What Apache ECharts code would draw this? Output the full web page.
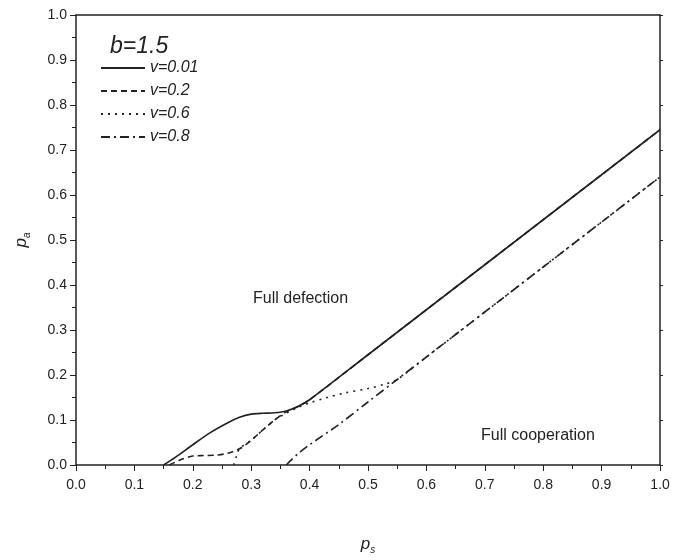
<!DOCTYPE html>
<html>
<head>
<meta charset="utf-8">
<script src="https://cdn.jsdelivr.net/npm/echarts@6/dist/echarts.min.js"></script>
<style>
  html, body { margin: 0; padding: 0; background: #fff; }
  #chart { width: 677px; height: 560px; }
</style>
</head>
<body>
<div id="chart"></div>
<script>
  // v=0.01
  const ps001 = [0.15, 0.17, 0.2, 0.23, 0.26, 0.28, 0.3, 0.32, 0.34, 0.36, 0.38, 0.4, 0.5, 0.6, 0.7, 0.8, 0.9, 0.98, 1.0];
  const pa001 = [0, 0.017, 0.045, 0.072, 0.094, 0.106, 0.113, 0.115, 0.116, 0.12, 0.13, 0.145, 0.245, 0.345, 0.445, 0.545, 0.645, 0.725, 0.745];
  // v=0.2
  const ps02 = [0.16, 0.18, 0.2, 0.22, 0.24, 0.26, 0.28, 0.3, 0.32, 0.34, 0.36, 0.38, 0.4, 0.5, 0.6, 0.7, 0.8, 0.9, 0.98, 1.0];
  const pa02 = [0, 0.012, 0.02, 0.021, 0.022, 0.026, 0.036, 0.055, 0.078, 0.1, 0.118, 0.13, 0.145, 0.245, 0.345, 0.445, 0.545, 0.645, 0.725, 0.745];
  // v=0.6
  const ps06 = [0.27, 0.275, 0.28, 0.3, 0.32, 0.34, 0.36, 0.38, 0.4, 0.43, 0.46, 0.5, 0.53, 0.55, 0.6, 0.7, 0.8, 0.9, 0.95, 1.0];
  const pa06 = [0, 0.02, 0.036, 0.055, 0.078, 0.1, 0.115, 0.128, 0.138, 0.15, 0.16, 0.17, 0.18, 0.19, 0.24, 0.34, 0.44, 0.54, 0.59, 0.64];
  // v=0.8
  const ps08 = [0.36, 0.38, 0.4, 0.45, 0.5, 0.55, 0.6, 0.7, 0.8, 0.9, 0.95, 1.0];
  const pa08 = [0, 0.025, 0.045, 0.09, 0.14, 0.19, 0.24, 0.34, 0.44, 0.54, 0.59, 0.64];

  const names = ['v=0.01', 'v=0.2', 'v=0.6', 'v=0.8'];
  const dashes = ['solid', [6, 4], [2, 5], [9, 4, 2, 4]];
  const xs = [ps001, ps02, ps06, ps08];
  const ys = [pa001, pa02, pa06, pa08];

  const ink = '#222';
  const font = 'Liberation Sans, Arial, sans-serif';

  const chart = echarts.init(document.getElementById('chart'));

  const series = names.map((n, i) => ({
    name: n,
    type: 'line',
    xAxisIndex: 0,
    yAxisIndex: 0,
    smooth: 0.3,
    symbol: 'none',
    silent: true,
    lineStyle: { color: ink, width: 1.6, type: dashes[i] },
    itemStyle: { color: ink },
    data: xs[i].map((x, k) => [x, ys[i][k]])
  }));

  const baseLabel = { color: ink, fontSize: 14, fontFamily: font, formatter: v => v.toFixed(1) };
  const subRich = {
    p: { fontSize: 17, fontStyle: 'italic', fontFamily: font, color: ink },
    s: { fontSize: 10, fontStyle: 'italic', fontFamily: font, color: ink, padding: [12, 0, 0, 0] }
  };

  const option = {
    backgroundColor: '#fff',
    animation: false,
    grid: { left: 76, right: 17, top: 15, bottom: 94 },
    legend: {
      data: names,
      orient: 'vertical',
      left: 95,
      top: 55,
      itemWidth: 44,
      itemHeight: 10,
      itemGap: 7,
      itemStyle: { color: 'rgba(0,0,0,0)', borderWidth: 0 },
      textStyle: { color: ink, fontSize: 16, fontStyle: 'italic', fontFamily: font }
    },
    xAxis: [{
      type: 'value', min: 0, max: 1, interval: 0.1,
      name: '{p|p}{s|s}',
      nameLocation: 'middle', nameGap: 68,
      nameTextStyle: { rich: subRich },
      axisLine: { onZero: false, lineStyle: { color: ink, width: 1.5 } },
      axisTick: { inside: false, length: 6, lineStyle: { color: ink } },
      minorTick: { show: true, splitNumber: 2, length: 4, lineStyle: { color: ink } },
      splitLine: { show: false },
      axisLabel: Object.assign({ margin: 13 }, baseLabel)
    }, {
      type: 'value', min: 0, max: 1, interval: 0.1, position: 'top',
      axisLine: { onZero: false, lineStyle: { color: ink, width: 1.5 } },
      axisTick: { show: false },
      axisLabel: { show: false },
      splitLine: { show: false }
    }],
    yAxis: [{
      type: 'value', min: 0, max: 1, interval: 0.1,
      name: '{p|p}{s|a}',
      nameLocation: 'middle', nameGap: 44, nameRotate: 90,
      nameTextStyle: { rich: subRich },
      axisLine: { onZero: false, lineStyle: { color: ink, width: 1.5 } },
      axisTick: { inside: false, length: 6, lineStyle: { color: ink } },
      minorTick: { show: true, splitNumber: 2, length: 4, lineStyle: { color: ink } },
      splitLine: { show: false },
      axisLabel: Object.assign({ margin: 9 }, baseLabel)
    }, {
      type: 'value', min: 0, max: 1, interval: 0.1, position: 'right',
      axisLine: { onZero: false, lineStyle: { color: ink, width: 1.5 } },
      axisTick: { inside: false, length: 3, lineStyle: { color: ink } },
      axisLabel: { show: false },
      splitLine: { show: false }
    }],
    graphic: [
      { type: 'text', left: 110, top: 35,
        style: { text: 'b=1.5', fill: ink, font: 'italic 23px ' + font } },
      { type: 'text', left: 253, top: 291,
        style: { text: 'Full defection', fill: ink, font: '16px ' + font } },
      { type: 'text', left: 481, top: 428,
        style: { text: 'Full cooperation', fill: ink, font: '16px ' + font } }
    ],
    series: series
  };

  chart.setOption(option);
</script>
</body>
</html>
